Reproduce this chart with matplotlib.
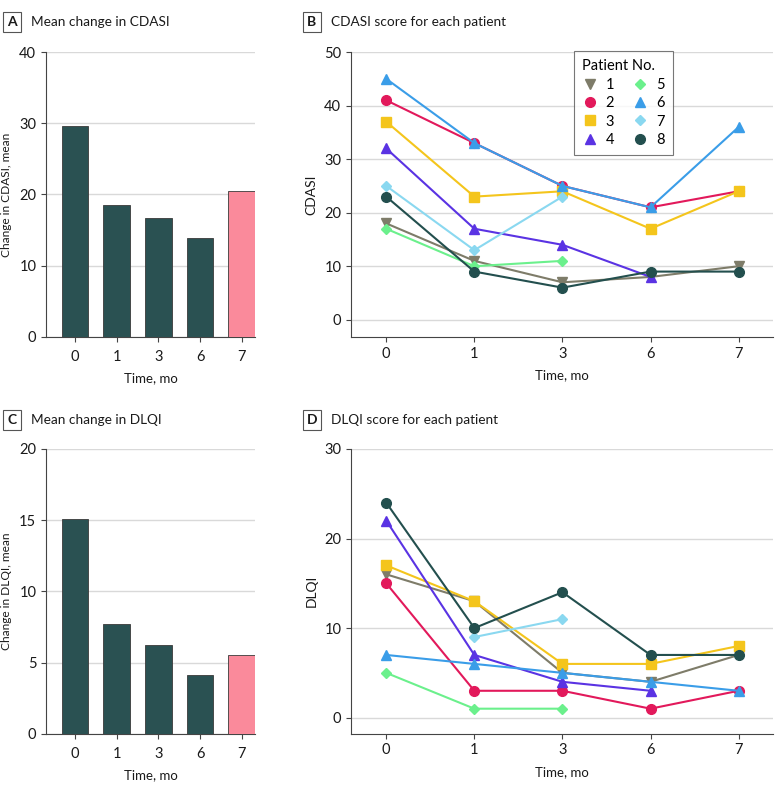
import numpy as np
import matplotlib.pyplot as plt
from matplotlib.lines import Line2D

plt.rcParams['font.family'] = ['Lato', 'DejaVu Sans']

# data
months = ['0', '1', '3', '6', '7']
cdasi_mean = [29.6, 18.5, 16.7, 13.9, 20.5]
dlqi_mean = [15.1, 7.7, 6.2, 4.1, 5.5]

nan = np.nan
patients = ['1', '2', '3', '4', '5', '6', '7', '8']
cdasi = {
    '1': [18, 11, 7, 8, 10],
    '2': [41, 33, 25, 21, 24],
    '3': [37, 23, 24, 17, 24],
    '4': [32, 17, 14, 8, nan],
    '5': [17, 10, 11, nan, nan],
    '6': [45, 33, 25, 21, 36],
    '7': [25, 13, 23, nan, nan],
    '8': [23, 9, 6, 9, 9],
}
dlqi = {
    '1': [16, 13, 5, 4, 7],
    '2': [15, 3, 3, 1, 3],
    '3': [17, 13, 6, 6, 8],
    '4': [22, 7, 4, 3, nan],
    '5': [5, 1, 1, nan, nan],
    '6': [7, 6, 5, 4, 3],
    '7': [nan, 9, 11, nan, nan],
    '8': [24, 10, 14, 7, 7],
}

colors = {'1': '#7e7c69', '2': '#e2195b', '3': '#f4c51c', '4': '#5a33e3',
          '5': '#6bf08c', '6': '#3a9de8', '7': '#8ad8f0', '8': '#234f4e'}
markers = {'1': 'v', '2': 'o', '3': 's', '4': '^',
           '5': 'D', '6': '^', '7': 'D', '8': 'o'}
msizes = {'1': 7, '2': 7, '3': 6.5, '4': 7, '5': 5.5, '6': 7, '7': 5.5, '8': 7}

bar_color = '#2a5152'
last_color = '#fa8a9b'
grid_color = '#d9d9d9'
text_color = '#1a1a1a'

fig = plt.figure(figsize=(7.8, 7.89), dpi=100)

def style_axes(ax):
    ax.spines['top'].set_visible(False)
    ax.spines['right'].set_visible(False)
    ax.spines['left'].set_color('#444444')
    ax.spines['bottom'].set_color('#444444')
    ax.yaxis.grid(True, color=grid_color, linewidth=1.0)
    ax.set_axisbelow(True)
    ax.tick_params(axis='both', labelsize=10.5, colors='#444444', labelcolor=text_color,
                   length=3.5, width=0.8)
    ax.set_xlabel('Time, mo', fontsize=9.5, color=text_color, labelpad=6)

def panel_title(x, y, letter, text):
    fig.text(x, y, letter, fontsize=10, fontweight='bold', color=text_color,
             ha='center', va='center',
             bbox=dict(boxstyle='square,pad=0.3', fc='white', ec='#555555', lw=0.8))
    fig.text(x + 0.024, y, text, fontsize=9.8, color=text_color, ha='left', va='center')

def bar_panel(rect, values, ymax, step, ylabel):
    ax = fig.add_axes(rect)
    x = np.arange(len(months))
    cols = [bar_color] * (len(months) - 1) + [last_color]
    ax.bar(x, values, width=0.64, color=cols, edgecolor='#3a3a3a', linewidth=0.6, zorder=3)
    ax.set_xlim(-0.7, 4.32)
    ax.set_ylim(0, ymax)
    ax.set_yticks(np.arange(0, ymax + 1, step))
    ax.set_xticks(x)
    ax.set_xticklabels(months)
    ax.tick_params(axis='x', length=0, pad=6)
    style_axes(ax)
    ax.set_ylabel(ylabel, fontsize=8.6, color=text_color, labelpad=5)
    return ax

def line_panel(rect, data, ylim, step, ylabel):
    ax = fig.add_axes(rect)
    x = np.arange(len(months))
    for p in patients:
        ax.plot(x, data[p], color=colors[p], marker=markers[p], markersize=msizes[p],
                linewidth=1.5, zorder=3)
    ax.set_xlim(-0.4, 4.39)
    ax.set_ylim(*ylim)
    ax.set_yticks(np.arange(0, ylim[1] + 1, step))
    ax.set_xticks(x)
    ax.set_xticklabels(months)
    style_axes(ax)
    ax.set_ylabel(ylabel, fontsize=10, color=text_color, labelpad=5)
    return ax

axA = bar_panel([0.059, 0.573, 0.268, 0.361], cdasi_mean, 40, 10, 'Change in CDASI, mean')
axB = line_panel([0.45, 0.573, 0.541, 0.361], cdasi, (-3.2, 50), 10, 'CDASI')
axC = bar_panel([0.059, 0.07, 0.268, 0.361], dlqi_mean, 20, 5, 'Change in DLQI, mean')
axD = line_panel([0.45, 0.07, 0.541, 0.361], dlqi, (-1.8, 30), 10, 'DLQI')

handles = [Line2D([], [], color=colors[p], marker=markers[p], linestyle='none',
                  markersize=msizes[p]) for p in patients]
leg = axB.legend(handles, patients, title='Patient No.', ncol=2, loc='upper left',
                 bbox_to_anchor=(0.512, 1.028), fontsize=10.5, title_fontsize=10.5,
                 frameon=True, fancybox=False, edgecolor='#555555',
                 handlelength=1.0, handletextpad=0.6, columnspacing=1.3,
                 labelspacing=0.3, borderpad=0.55)
leg._legend_box.align = 'left'
leg.get_frame().set_linewidth(0.8)

panel_title(0.0155, 0.972, 'A', 'Mean change in CDASI')
panel_title(0.4, 0.972, 'B', 'CDASI score for each patient')
panel_title(0.0155, 0.468, 'C', 'Mean change in DLQI')
panel_title(0.4, 0.468, 'D', 'DLQI score for each patient')

fig.savefig('out.png', dpi=100)
